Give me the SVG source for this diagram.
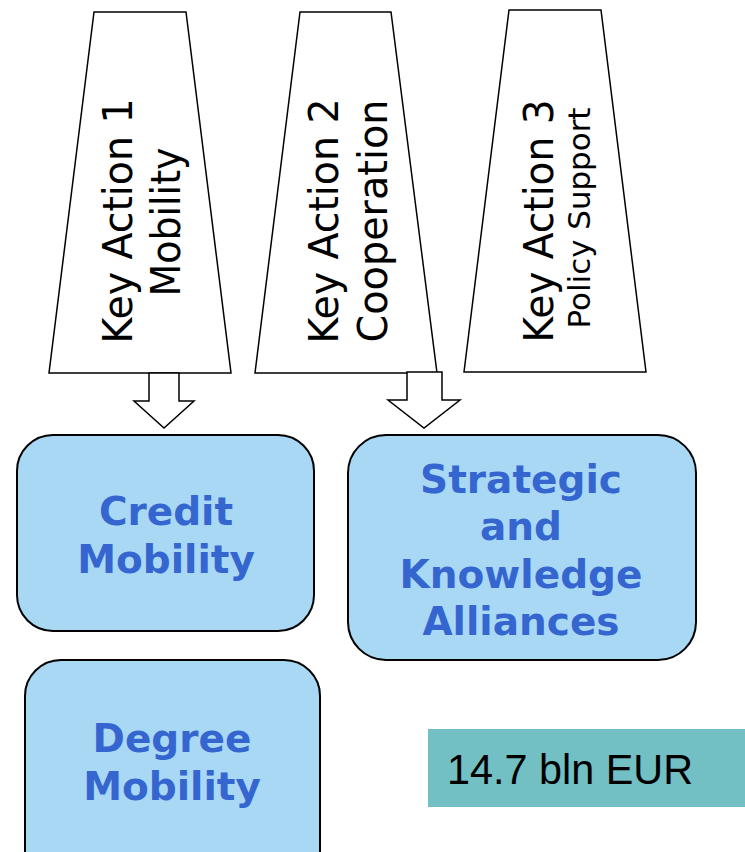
<svg xmlns="http://www.w3.org/2000/svg" width="745" height="852" viewBox="0 0 745 852">
<style>
.trap{fill:#fff;stroke:#000;stroke-width:1.5}
.arr{fill:#fff;stroke:#000;stroke-width:1.5}
.box{fill:#A9D8F5;stroke:#000;stroke-width:2}
.vt{font-family:"DejaVu Sans",Verdana,sans-serif;fill:#000;text-anchor:middle}
.bt{font-family:"DejaVu Sans",Verdana,sans-serif;font-weight:bold;font-size:39px;fill:#3566D0;text-anchor:middle}
.eur{font-family:"Liberation Sans",Arial,sans-serif;font-size:42px;fill:#000}
</style>
<rect width="745" height="852" fill="#fff"/>
<g id="ka1">
<polygon class="trap" points="94,12 186,12 231,373 49,373"/>
<text class="vt" font-size="40" textLength="245" lengthAdjust="spacingAndGlyphs" transform="translate(132,221) rotate(-90)">Key Action 1</text>
<text class="vt" font-size="40" textLength="149" lengthAdjust="spacingAndGlyphs" transform="translate(180,222) rotate(-90)">Mobility</text>
</g>
<g id="ka2">
<polygon class="trap" points="300,12 391,12 437,373 255,373"/>
<text class="vt" font-size="40" textLength="245" lengthAdjust="spacingAndGlyphs" transform="translate(338,221) rotate(-90)">Key Action 2</text>
<text class="vt" font-size="40" textLength="243" lengthAdjust="spacingAndGlyphs" transform="translate(387,221) rotate(-90)">Cooperation</text>
</g>
<g id="ka3">
<polygon class="trap" points="509,10 601,10 646,372 464,372"/>
<text class="vt" font-size="40" textLength="243" lengthAdjust="spacingAndGlyphs" transform="translate(553,221) rotate(-90)">Key Action 3</text>
<text class="vt" font-size="30" textLength="221" lengthAdjust="spacingAndGlyphs" transform="translate(590,218) rotate(-90)">Policy Support</text>
</g>
<g id="connectors">
<polygon class="arr" points="149,373 179,373 179,401 194,401 164,428 134,401 149,401"/>
<polygon class="arr" points="407,372 442,372 442,400 460,400 424,428 388,400 407,400"/>
</g>
<g id="credit">
<rect class="box" x="17" y="435" width="297" height="196" rx="36"/>
<text class="bt" x="166" y="525">Credit</text>
<text class="bt" x="166" y="573">Mobility</text>
</g>
<g id="strategic">
<rect class="box" x="348" y="435" width="348" height="225" rx="38"/>
<text class="bt" x="521" y="493">Strategic</text>
<text class="bt" x="521" y="540">and</text>
<text class="bt" x="521" y="588">Knowledge</text>
<text class="bt" x="521" y="635">Alliances</text>
</g>
<g id="degree">
<rect class="box" x="25" y="660" width="295" height="230" rx="36"/>
<text class="bt" x="172" y="752">Degree</text>
<text class="bt" x="172" y="800">Mobility</text>
</g>
<g id="budget">
<rect x="428" y="729" width="317" height="78" fill="#72BFC4"/>
<text class="eur" x="447" y="784" textLength="246" lengthAdjust="spacingAndGlyphs">14.7 bln EUR</text>
</g>
</svg>
